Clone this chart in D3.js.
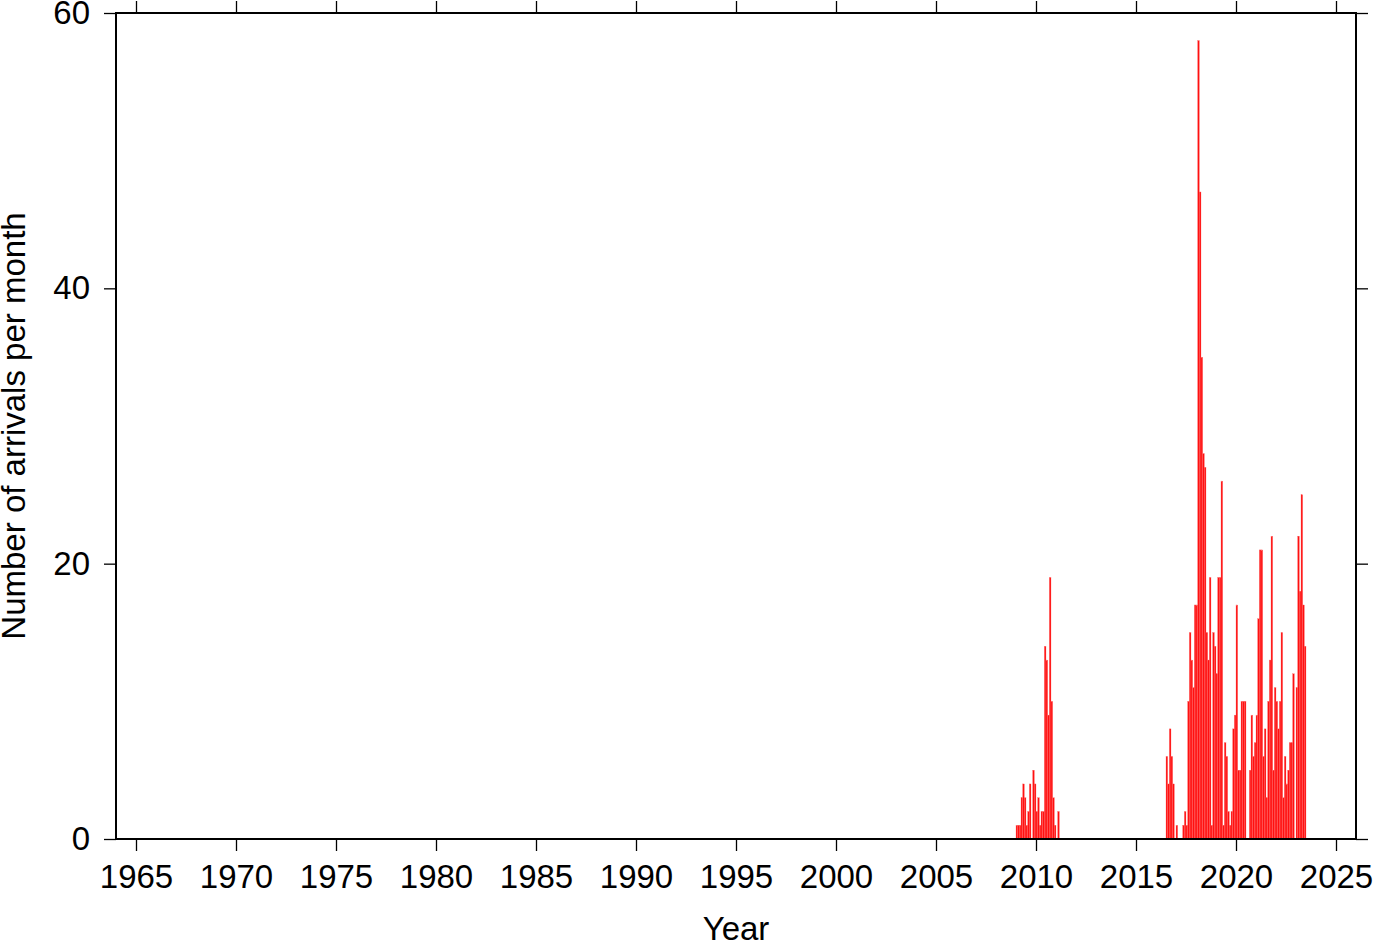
<!DOCTYPE html>
<html>
<head>
<meta charset="utf-8">
<script src="https://cdn.jsdelivr.net/npm/d3@7"></script>
<style>
  html, body { margin: 0; padding: 0; background: #fff; }
  svg { display: block; }
  text { font-family: "Liberation Sans", Arial, Helvetica, sans-serif; fill: #000; }
</style>
</head>
<body>
<svg id="chart" width="1382" height="942"></svg>
<script>
// Monthly arrival counts
const startYear2009 = 2009, startMonth2009 = 1;
const arrivals2009 = [1,1,1,3,4,3,1,2,4,0,5,4,
                      2,3,1,2,2,14,13,9,19,10,3,1,
                      0,2];
const startYear2016 = 2016, startMonth2016 = 7;
const arrivals2016 = [6,4,8,6,4,0,
                      1,0,0,0,1,2,1,10,15,13,11,17];
const startYear2018 = 2018, startMonth2018 = 1;
const arrivals2018 = [17,58,47,35,28,27,15,13,19,1,15,14,
                      12,19,19,26,1,7,6,2,1,2,8,9,
                      17,5,5,10,10,10,0,0,5,9,6,7,
                      9,16,21,21,6,8,3,10,13,22,5,11,
                      10,8,10,15,3,6,4,5,7,7,12,0,
                      11,22,18,25,17,14];

const xTickValues = [1965,1970,1975,1980,1985,1990,1995,2000,2005,2010,2015,2020,2025];
const yTickValues = [0,20,40,60];
const xDomain = [1964, 2026];
const yDomain = [0, 60];
const xTitle = "Year";
const yTitle = "Number of arrivals per month";

function toRecords(y0, m0, vals) {
  return vals.map((v, i) => ({ t: y0 + (m0 - 1 + i) / 12, v: v }));
}
const data = [].concat(
  toRecords(startYear2009, startMonth2009, arrivals2009),
  toRecords(startYear2016, startMonth2016, arrivals2016),
  toRecords(startYear2018, startMonth2018, arrivals2018)
);

const svg = d3.select("#chart");
const L = 116, R = 1356, T = 13, B = 839;
const x = d3.scaleLinear().domain(xDomain).range([L, R]);
const y = d3.scaleLinear().domain(yDomain).range([B, T]);
const fontSize = 33;

// bars
svg.append("g")
  .selectAll("rect")
  .data(data.filter(d => d.v > 0))
  .join("rect")
  .attr("x", d => x(d.t))
  .attr("width", d => x(d.t + 1/12) - x(d.t))
  .attr("y", d => y(d.v))
  .attr("height", d => y(0) - y(d.v))
  .attr("fill", "#ff1010")
  .attr("stroke", "#ff6a6a")
  .attr("stroke-width", 0.3);

function styleAxis(g) {
  g.select(".domain").remove();
  g.selectAll(".tick line").attr("stroke", "#000").attr("stroke-width", 1.3);
  g.selectAll(".tick text").style("font-size", fontSize + "px")
    .style("font-family", '"Liberation Sans", Arial, sans-serif');
}

svg.append("g").attr("transform", `translate(0,${B})`)
  .call(d3.axisBottom(x).tickValues(xTickValues).tickFormat(d3.format("d")).tickSize(12).tickPadding(13.5))
  .call(styleAxis);
svg.append("g").attr("transform", `translate(0,${T})`)
  .call(d3.axisTop(x).tickValues(xTickValues).tickFormat("").tickSize(12))
  .call(styleAxis);
svg.append("g").attr("transform", `translate(${L},0)`)
  .call(d3.axisLeft(y).tickValues(yTickValues).tickFormat(d3.format("d")).tickSize(12).tickPadding(14))
  .call(styleAxis);
svg.append("g").attr("transform", `translate(${R},0)`)
  .call(d3.axisRight(y).tickValues(yTickValues).tickFormat("").tickSize(12))
  .call(styleAxis);

// frame
svg.append("rect")
  .attr("x", L).attr("y", T)
  .attr("width", R - L).attr("height", B - T)
  .attr("fill", "none").attr("stroke", "#000").attr("stroke-width", 2);

// titles
svg.append("text")
  .attr("x", (L + R) / 2).attr("y", 940)
  .attr("text-anchor", "middle")
  .style("font-size", fontSize + "px")
  .text(xTitle);
svg.append("text")
  .attr("transform", `translate(25,${(T + B) / 2}) rotate(-90)`)
  .attr("text-anchor", "middle")
  .style("font-size", fontSize + "px")
  .text(yTitle);
</script>
</body>
</html>
